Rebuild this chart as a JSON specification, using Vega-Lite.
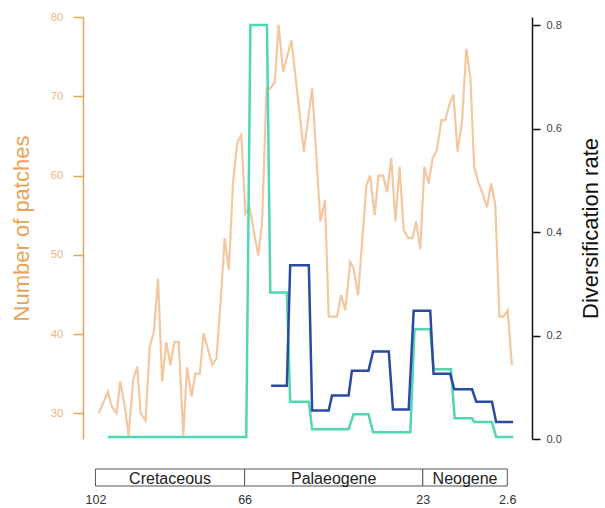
{
  "$schema": "https://vega.github.io/schema/vega-lite/v6.json",
  "padding": {"left": 10, "top": 11, "right": 0, "bottom": 0},
  "background": "white",
  "config": {"view": {"stroke": null}, "font": "Liberation Sans"},
  "bounds": "flush",
  "spacing": 30,
  "vconcat": [
    {
      "width": 449,
      "height": 422,
      "layer": [
        {
          "data": {"values": [
            {"age": 101.2, "patches": 30.0}, {"age": 99.0, "patches": 32.7}, {"age": 98.0, "patches": 30.8},
            {"age": 96.9, "patches": 30.0}, {"age": 96.0, "patches": 34.0}, {"age": 94.9, "patches": 30.8},
            {"age": 94.0, "patches": 27.2}, {"age": 92.9, "patches": 34.2}, {"age": 91.9, "patches": 35.9},
            {"age": 91.1, "patches": 30.0}, {"age": 89.9, "patches": 29.1}, {"age": 88.9, "patches": 38.4},
            {"age": 87.9, "patches": 40.3}, {"age": 86.9, "patches": 47.0}, {"age": 85.9, "patches": 34.0},
            {"age": 84.9, "patches": 39.0}, {"age": 83.9, "patches": 36.1}, {"age": 82.9, "patches": 39.0},
            {"age": 81.9, "patches": 39.0}, {"age": 80.8, "patches": 27.2}, {"age": 79.9, "patches": 35.8},
            {"age": 78.8, "patches": 32.1}, {"age": 77.9, "patches": 35.0}, {"age": 76.8, "patches": 35.0},
            {"age": 75.9, "patches": 40.1}, {"age": 74.8, "patches": 38.0}, {"age": 73.8, "patches": 36.1},
            {"age": 72.8, "patches": 36.9}, {"age": 71.8, "patches": 43.9}, {"age": 70.8, "patches": 52.1},
            {"age": 69.8, "patches": 48.1}, {"age": 68.8, "patches": 59.0}, {"age": 67.8, "patches": 64.1},
            {"age": 66.8, "patches": 65.1}, {"age": 65.8, "patches": 55.2}, {"age": 64.8, "patches": 56.0},
            {"age": 63.8, "patches": 53.1}, {"age": 62.7, "patches": 49.9}, {"age": 61.8, "patches": 54.0},
            {"age": 60.7, "patches": 71.0}, {"age": 59.8, "patches": 71.0}, {"age": 58.7, "patches": 71.8},
            {"age": 57.8, "patches": 79.0}, {"age": 56.7, "patches": 73.1}, {"age": 54.7, "patches": 77.1},
            {"age": 51.7, "patches": 63.0}, {"age": 49.7, "patches": 71.0}, {"age": 47.7, "patches": 54.2},
            {"age": 46.6, "patches": 56.9}, {"age": 45.7, "patches": 42.2}, {"age": 43.7, "patches": 42.2},
            {"age": 42.7, "patches": 44.9}, {"age": 41.7, "patches": 43.0}, {"age": 40.5, "patches": 49.1},
            {"age": 39.7, "patches": 48.3}, {"age": 38.6, "patches": 44.9}, {"age": 36.6, "patches": 58.8},
            {"age": 35.7, "patches": 60.0}, {"age": 34.6, "patches": 55.0}, {"age": 33.7, "patches": 60.0},
            {"age": 32.6, "patches": 60.0}, {"age": 31.6, "patches": 57.9}, {"age": 30.6, "patches": 62.2},
            {"age": 29.6, "patches": 54.2}, {"age": 28.6, "patches": 61.1}, {"age": 27.6, "patches": 53.1},
            {"age": 26.5, "patches": 52.1}, {"age": 25.5, "patches": 52.1}, {"age": 24.6, "patches": 54.2},
            {"age": 23.6, "patches": 50.7}, {"age": 22.6, "patches": 61.1}, {"age": 21.6, "patches": 59.0},
            {"age": 20.6, "patches": 62.2}, {"age": 19.6, "patches": 63.2}, {"age": 18.5, "patches": 67.0},
            {"age": 17.6, "patches": 67.0}, {"age": 16.5, "patches": 69.1}, {"age": 15.6, "patches": 70.2},
            {"age": 14.6, "patches": 63.0}, {"age": 13.5, "patches": 67.0}, {"age": 12.5, "patches": 76.0},
            {"age": 11.5, "patches": 72.3}, {"age": 10.6, "patches": 61.1}, {"age": 9.5, "patches": 59.0},
            {"age": 8.5, "patches": 57.7}, {"age": 7.5, "patches": 56.0}, {"age": 6.5, "patches": 59.0},
            {"age": 5.5, "patches": 56.3}, {"age": 4.5, "patches": 42.2}, {"age": 3.5, "patches": 42.2},
            {"age": 2.5, "patches": 43.0}, {"age": 1.5, "patches": 36.1}
          ]},
          "mark": {"type": "line", "color": "#F3C8A0", "strokeWidth": 2.2},
          "encoding": {
            "x": {"field": "age", "type": "quantitative", "scale": {"domain": [105, -3.36], "nice": false, "zero": false}, "axis": null},
            "y": {"field": "patches", "type": "quantitative", "scale": {"domain": [26.76, 80], "nice": false, "zero": false},
              "axis": {"orient": "left", "values": [30, 40, 50, 60, 70, 80], "grid": false, "title": "Number of patches",
                "titleColor": "#E8A358", "titleFontSize": 22, "titleFontWeight": "normal", "titlePadding": 17,
                "labelColor": "#EDB882", "labelFontSize": 11.5, "labelPadding": 10, "ticks": true, "tickSize": 10,
                "tickColor": "#E8A358", "domainColor": "#E8A358", "domainWidth": 1.5, "tickWidth": 1.5}}
          }
        },
        {
          "data": {"values": [
            {"series": "teal", "age": 99.0, "rate": 0.004}, {"series": "teal", "age": 65.6, "rate": 0.004},
            {"series": "teal", "age": 64.6, "rate": 0.8}, {"series": "teal", "age": 60.6, "rate": 0.8},
            {"series": "teal", "age": 59.8, "rate": 0.283}, {"series": "teal", "age": 55.8, "rate": 0.283},
            {"series": "teal", "age": 55.0, "rate": 0.072}, {"series": "teal", "age": 50.5, "rate": 0.072},
            {"series": "teal", "age": 49.7, "rate": 0.019}, {"series": "teal", "age": 40.9, "rate": 0.019},
            {"series": "teal", "age": 39.7, "rate": 0.048}, {"series": "teal", "age": 36.1, "rate": 0.048},
            {"series": "teal", "age": 35.0, "rate": 0.013}, {"series": "teal", "age": 26.0, "rate": 0.013},
            {"series": "teal", "age": 25.0, "rate": 0.212}, {"series": "teal", "age": 21.2, "rate": 0.212},
            {"series": "teal", "age": 20.4, "rate": 0.135}, {"series": "teal", "age": 16.2, "rate": 0.135},
            {"series": "teal", "age": 15.3, "rate": 0.040}, {"series": "teal", "age": 11.1, "rate": 0.040},
            {"series": "teal", "age": 10.6, "rate": 0.033}, {"series": "teal", "age": 6.3, "rate": 0.033},
            {"series": "teal", "age": 5.3, "rate": 0.004}, {"series": "teal", "age": 1.2, "rate": 0.004},
            {"series": "navy", "age": 59.6, "rate": 0.103}, {"series": "navy", "age": 55.8, "rate": 0.103},
            {"series": "navy", "age": 55.0, "rate": 0.336}, {"series": "navy", "age": 50.5, "rate": 0.336},
            {"series": "navy", "age": 49.7, "rate": 0.055}, {"series": "navy", "age": 45.7, "rate": 0.055},
            {"series": "navy", "age": 44.9, "rate": 0.084}, {"series": "navy", "age": 40.9, "rate": 0.084},
            {"series": "navy", "age": 40.1, "rate": 0.132}, {"series": "navy", "age": 36.1, "rate": 0.132},
            {"series": "navy", "age": 35.0, "rate": 0.169}, {"series": "navy", "age": 31.2, "rate": 0.169},
            {"series": "navy", "age": 30.2, "rate": 0.057}, {"series": "navy", "age": 26.4, "rate": 0.057},
            {"series": "navy", "age": 25.2, "rate": 0.248}, {"series": "navy", "age": 21.2, "rate": 0.248},
            {"series": "navy", "age": 20.4, "rate": 0.126}, {"series": "navy", "age": 16.4, "rate": 0.126},
            {"series": "navy", "age": 15.4, "rate": 0.096}, {"series": "navy", "age": 11.1, "rate": 0.096},
            {"series": "navy", "age": 10.1, "rate": 0.072}, {"series": "navy", "age": 6.3, "rate": 0.072},
            {"series": "navy", "age": 5.3, "rate": 0.033}, {"series": "navy", "age": 1.2, "rate": 0.033}
          ]},
          "mark": {"type": "line", "strokeWidth": 2.5},
          "encoding": {
            "x": {"field": "age", "type": "quantitative", "scale": {"domain": [105, -3.36], "nice": false, "zero": false}, "axis": null},
            "y": {"field": "rate", "type": "quantitative", "scale": {"domain": [0, 0.8155], "nice": false, "zero": false},
              "axis": {"orient": "right", "values": [0, 0.2, 0.4, 0.6, 0.8], "format": ".1f", "grid": false,
                "title": "Diversification rate", "titleAngle": 270, "titleBaseline": "top", "titleColor": "#111111",
                "titleFontSize": 22, "titleFontWeight": "normal", "titlePadding": 19,
                "labelColor": "#444444", "labelFontSize": 11, "labelPadding": 6, "ticks": true, "tickSize": 8,
                "tickColor": "#111111", "domainColor": "#111111", "domainWidth": 1.5, "tickWidth": 1.5}},
            "color": {"field": "series", "type": "nominal", "scale": {"domain": ["teal", "navy"], "range": ["#52D6B4", "#2C4BA0"]}, "legend": null}
          }
        }
      ],
      "resolve": {"scale": {"y": "independent"}}
    },
    {
      "width": 449,
      "height": 17,
      "data": {"values": [
        {"period": "Cretaceous", "start": 102, "end": 66, "mid": 84},
        {"period": "Palaeogene", "start": 66, "end": 23, "mid": 44.5},
        {"period": "Neogene", "start": 23, "end": 2.6, "mid": 12.8}
      ]},
      "layer": [
        {
          "mark": {"type": "rect", "fill": "white", "stroke": "#555555", "strokeWidth": 1},
          "encoding": {
            "x": {"field": "start", "type": "quantitative", "scale": {"domain": [105, -3.36], "nice": false, "zero": false},
              "axis": {"values": [102, 66, 23, 2.6], "format": ".1~f", "domain": false, "ticks": false, "tickSize": 0, "grid": false,
                "title": null, "labelPadding": 7, "labelFontSize": 12.5, "labelColor": "#333333", "labelFlush": false}},
            "x2": {"field": "end"}
          }
        },
        {
          "mark": {"type": "text", "fontSize": 16, "color": "#222222", "dy": 1},
          "encoding": {
            "x": {"field": "mid", "type": "quantitative"},
            "text": {"field": "period"}
          }
        }
      ]
    }
  ]
}
